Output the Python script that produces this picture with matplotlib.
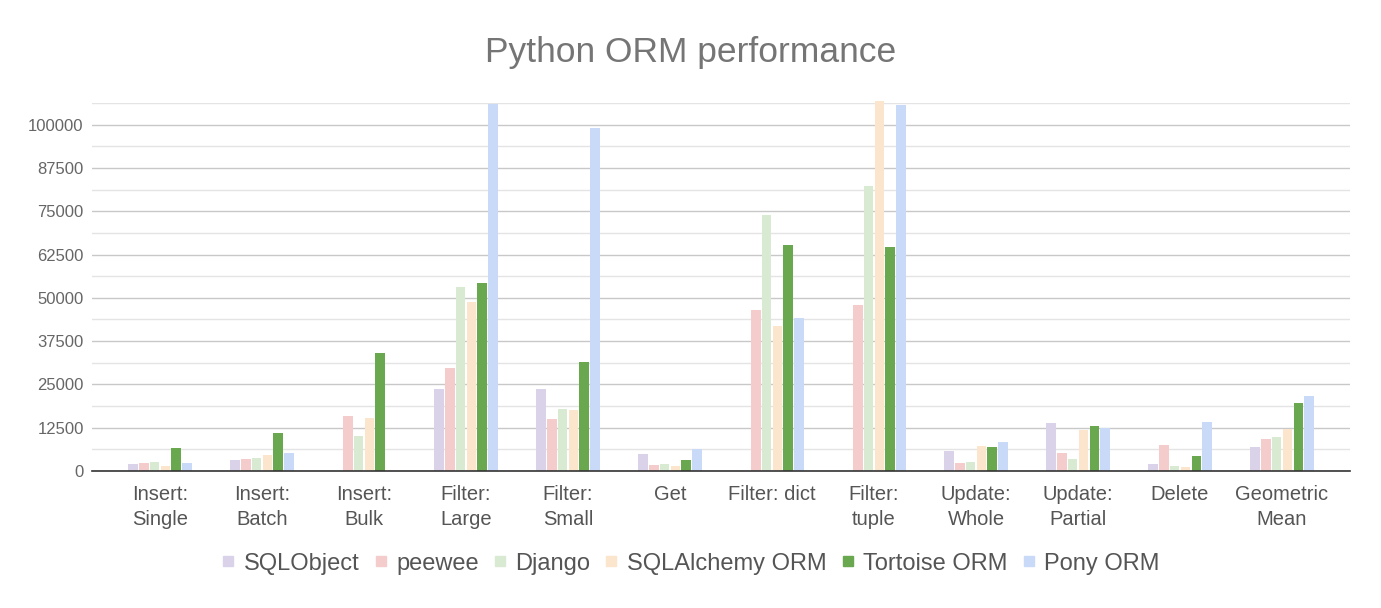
import numpy as np
import matplotlib.pyplot as plt
from matplotlib.lines import Line2D

plt.rcParams['font.family'] = ['Liberation Sans', 'DejaVu Sans']

categories = ["Insert:\nSingle", "Insert:\nBatch", "Insert:\nBulk", "Filter:\nLarge",
              "Filter:\nSmall", "Get", "Filter: dict", "Filter:\ntuple",
              "Update:\nWhole", "Update:\nPartial", "Delete", "Geometric\nMean"]

series = ["SQLObject", "peewee", "Django", "SQLAlchemy ORM", "Tortoise ORM", "Pony ORM"]

# None = no result for that ORM
sqlobject = [2030, 3200, None, 23740, 23740, 4920, None, None, 5790, 13900, 2030, 6950]
peewee = [2300, 3470, 15900, 29820, 15050, 1740, 46500, 48060, 2320, 5210, 7530, 9260]
django = [2600, 3760, 10130, 53270, 17950, 2030, 74000, 82330, 2600, 3470, 1450, 9840]
sqlalchemy = [1450, 4630, 15340, 48930, 17660, 1450, 41980, 106900, 7240, 11870, 1160, 12160]
tortoise = [6560, 10900, 34060, 54140, 31560, 3180, 65320, 64740, 6950, 13030, 4340, 19690]
pony = [2300, 5210, None, 105950, 99040, 6270, 44290, 105770, 8400, 12450, 14190, 21710]

colors = ["#d9d2e9", "#f4cccc", "#d9ead3", "#fce5cd", "#6aa84f", "#c9daf8"]

data = [sqlobject, peewee, django, sqlalchemy, tortoise, pony]

fig = plt.figure(figsize=(13.81, 6.08), dpi=100)
ax = fig.add_axes([0.0666, 0.2253, 0.911, 0.6053])

x = np.arange(len(categories))
step = 0.107
width = 0.096
for i, vals in enumerate(data):
    v = np.array([np.nan if a is None else a for a in vals], dtype=float)
    ax.bar(x + (i - 2.5) * step, v, width, color=colors[i], zorder=3, clip_on=False)

ax.set_xlim(-0.667, len(categories) - 1 + 0.667)
ax.set_ylim(0, 106250)
major = np.arange(0, 100001, 12500)
ax.set_yticks(major)
ax.set_yticklabels([str(m) for m in major], fontsize=12, color="#666666")
ax.set_yticks(np.arange(6250, 106251, 12500), minor=True)
ax.grid(axis='y', which='major', color='#c8c8c8', linewidth=1, zorder=0)
ax.grid(axis='y', which='minor', color='#e4e4e4', linewidth=1, zorder=0)
ax.tick_params(axis='y', which='both', length=0, pad=6)
ax.tick_params(axis='x', length=0, pad=10)
ax.set_xticks(x)
ax.set_xticklabels(categories, fontsize=14.5, color="#555555", linespacing=1.4)

for s in ['top', 'right', 'left']:
    ax.spines[s].set_visible(False)
ax.spines['bottom'].set_color('#333333')
ax.spines['bottom'].set_linewidth(1.2)
ax.spines['bottom'].set_zorder(4)

fig.text(0.5, 0.914, "Python ORM performance", fontsize=25.5, color="#757575",
         ha='center', va='center')

handles = [Line2D([0], [0], marker='s', linestyle='', markersize=7.5,
                  markerfacecolor=c, markeredgecolor=c) for c in colors]
fig.legend(handles, series, loc='center', bbox_to_anchor=(0.5, 0.073), ncol=6,
           frameon=False, fontsize=17, handletextpad=0.35, columnspacing=0.6,
           handlelength=0.6, labelcolor="#555555")

fig.savefig("out.png", dpi=100)
